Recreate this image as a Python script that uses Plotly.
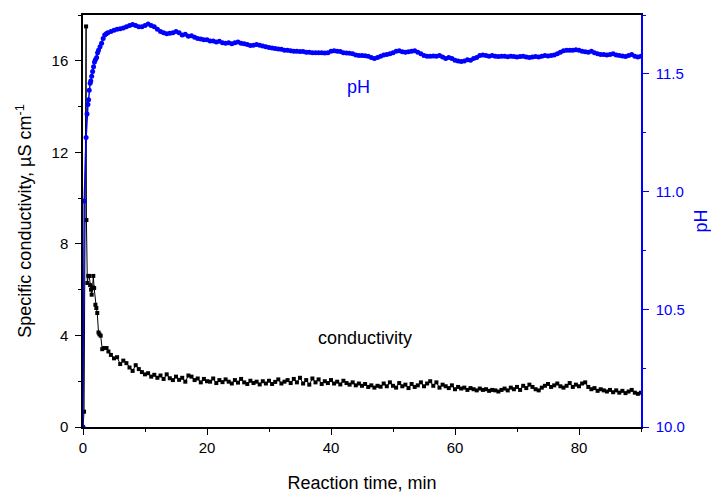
import plotly.graph_objects as go

# ---------------- data ----------------
time_cond_early = [0.0, 0.17, 0.5, 0.55, 0.7, 0.85, 1.0, 1.15, 1.3, 1.4, 1.55, 1.66, 1.8,
                   2.0, 2.15, 2.3, 2.5, 2.65, 2.85, 3.1, 3.4, 3.8, 4.1, 4.5]
cond_early = [0.0, 0.67, 17.5, 9.04, 6.29, 6.6, 6.6, 6.2, 6.0, 5.78, 6.1, 6.6, 6.07,
              5.34, 5.2, 4.98, 4.13, 4.05, 3.99, 3.4, 3.45, 3.45, 3.3, 3.15]

time_ph_early = [0.0, 0.2, 0.5, 0.65, 0.8, 0.9, 1.0, 1.15, 1.25, 1.4, 1.55, 1.7, 1.85,
                 2.0, 2.2, 2.35, 2.5, 2.75, 3.0, 3.25, 3.5, 3.75, 4.0, 4.5]
ph_early = [10.0, 10.96, 11.23, 11.33, 11.37, 11.39, 11.43, 11.46, 11.47, 11.49, 11.51, 11.53, 11.55,
            11.56, 11.57, 11.59, 11.60, 11.615, 11.63, 11.65, 11.665, 11.67, 11.675, 11.68]

time_late = [
    5.0, 5.5, 6.0, 6.5, 7.0, 7.5, 8.0, 8.5, 9.0, 9.5,
    10.0, 10.5, 11.0, 11.5, 12.0, 12.5, 13.0, 13.5, 14.0, 14.5,
    15.0, 15.5, 16.0, 16.5, 17.0, 17.5, 18.0, 18.5, 19.0, 19.5,
    20.0, 20.5, 21.0, 21.5, 22.0, 22.5, 23.0, 23.5, 24.0, 24.5,
    25.0, 25.5, 26.0, 26.5, 27.0, 27.5, 28.0, 28.5, 29.0, 29.5,
    30.0, 30.5, 31.0, 31.5, 32.0, 32.5, 33.0, 33.5, 34.0, 34.5,
    35.0, 35.5, 36.0, 36.5, 37.0, 37.5, 38.0, 38.5, 39.0, 39.5,
    40.0, 40.5, 41.0, 41.5, 42.0, 42.5, 43.0, 43.5, 44.0, 44.5,
    45.0, 45.5, 46.0, 46.5, 47.0, 47.5, 48.0, 48.5, 49.0, 49.5,
    50.0, 50.5, 51.0, 51.5, 52.0, 52.5, 53.0, 53.5, 54.0, 54.5,
    55.0, 55.5, 56.0, 56.5, 57.0, 57.5, 58.0, 58.5, 59.0, 59.5,
    60.0, 60.5, 61.0, 61.5, 62.0, 62.5, 63.0, 63.5, 64.0, 64.5,
    65.0, 65.5, 66.0, 66.5, 67.0, 67.5, 68.0, 68.5, 69.0, 69.5,
    70.0, 70.5, 71.0, 71.5, 72.0, 72.5, 73.0, 73.5, 74.0, 74.5,
    75.0, 75.5, 76.0, 76.5, 77.0, 77.5, 78.0, 78.5, 79.0, 79.5,
    80.0, 80.5, 81.0, 81.5, 82.0, 82.5, 83.0, 83.5, 84.0, 84.5,
    85.0, 85.5, 86.0, 86.5, 87.0, 87.5, 88.0, 88.5, 89.0, 89.5,
    90.0,
]

cond_late = [
    3.0, 3.05, 2.75, 2.9, 2.79, 2.6, 2.45, 2.7, 2.53, 2.4,
    2.3, 2.35, 2.2, 2.28, 2.15, 2.25, 2.1, 2.3, 2.13, 2.05,
    2.2, 2.06, 2.15, 1.98, 2.25, 2.2, 2.05, 2.12, 1.95, 2.1,
    2.0, 1.98, 2.12, 1.92, 2.05, 1.96, 2.08, 1.98, 1.9, 2.05,
    1.94, 2.1, 1.95, 1.88, 2.02, 1.92, 1.98, 1.86, 2.0, 1.9,
    2.02, 1.88, 1.97, 2.08, 1.9, 1.98, 2.05, 1.92, 2.1, 1.95,
    2.15, 1.9, 2.05, 1.85, 2.12, 1.95, 2.08, 1.88, 2.0, 1.92,
    2.05, 1.9, 1.98, 1.86, 2.02, 1.92, 1.85, 1.95, 1.82, 1.9,
    1.8, 1.88, 1.75, 1.82, 1.72, 1.8, 1.76, 1.9, 1.78, 1.95,
    1.8, 1.72, 1.92, 1.78, 1.85, 1.7, 1.88, 1.75, 1.82, 1.95,
    1.78, 1.9, 2.0, 1.8, 1.95, 1.72, 1.85, 1.78, 1.7, 1.82,
    1.65, 1.75, 1.68, 1.72, 1.62, 1.7, 1.65, 1.6, 1.68, 1.62,
    1.65, 1.58, 1.62, 1.6, 1.55, 1.62, 1.68, 1.6, 1.72, 1.65,
    1.75, 1.62, 1.8, 1.7, 1.85, 1.75, 1.65, 1.6, 1.72, 1.8,
    1.88, 1.75, 1.82, 1.9, 1.78, 1.72, 1.8, 1.92, 1.75, 1.85,
    1.78, 1.9, 1.95, 1.75, 1.65, 1.7, 1.58, 1.65, 1.6, 1.55,
    1.62, 1.52, 1.6, 1.5, 1.58, 1.48, 1.55, 1.62, 1.5, 1.45,
    1.5,
]

ph_late = [
    11.685, 11.69, 11.692, 11.695, 11.70, 11.705, 11.71, 11.705, 11.70, 11.70,
    11.705, 11.712, 11.705, 11.70, 11.69, 11.68, 11.675, 11.67, 11.672, 11.675,
    11.68, 11.675, 11.665, 11.668, 11.66, 11.662, 11.655, 11.65, 11.648, 11.645,
    11.645, 11.64, 11.64, 11.635, 11.638, 11.632, 11.63, 11.632, 11.628, 11.632,
    11.635, 11.63, 11.628, 11.625, 11.62, 11.622, 11.625, 11.622, 11.618, 11.615,
    11.612, 11.61, 11.608, 11.606, 11.605, 11.60, 11.60, 11.598, 11.596, 11.596,
    11.595, 11.595, 11.592, 11.592, 11.59, 11.59, 11.59, 11.59, 11.589, 11.59,
    11.596, 11.598, 11.596, 11.595, 11.59, 11.589, 11.588, 11.585, 11.58, 11.578,
    11.578, 11.577, 11.575, 11.57, 11.565, 11.57, 11.575, 11.58, 11.582, 11.585,
    11.59, 11.596, 11.598, 11.594, 11.592, 11.594, 11.596, 11.598, 11.592, 11.585,
    11.578, 11.575, 11.575, 11.576, 11.575, 11.578, 11.572, 11.565, 11.57, 11.565,
    11.558, 11.555, 11.552, 11.555, 11.56, 11.558, 11.565, 11.57, 11.578, 11.58,
    11.578, 11.575, 11.578, 11.575, 11.574, 11.575, 11.575, 11.573, 11.575, 11.574,
    11.572, 11.574, 11.575, 11.572, 11.57, 11.572, 11.574, 11.572, 11.575, 11.578,
    11.576, 11.578, 11.58, 11.585, 11.592, 11.598, 11.60, 11.60, 11.60, 11.602,
    11.60, 11.596, 11.594, 11.592, 11.596, 11.59, 11.585, 11.582, 11.582, 11.58,
    11.582, 11.585, 11.58, 11.578, 11.576, 11.574, 11.578, 11.582, 11.575, 11.572,
    11.575,
]

time_cond = time_cond_early + time_late
cond = cond_early + cond_late
time_ph = time_ph_early + time_late
ph = ph_early + ph_late

x_ticks = [0, 20, 40, 60, 80]
y1_ticks = [0, 4, 8, 12, 16]
y2_ticks = [10.0, 10.5, 11.0, 11.5]

FONT = "Liberation Sans, Arial, sans-serif"
BLUE = "#0000FF"

fig = go.Figure()
fig.add_trace(go.Scatter(
    x=time_cond, y=cond, mode="lines+markers", name="conductivity",
    line=dict(color="black", width=1),
    marker=dict(symbol="square", size=4, color="black"),
    yaxis="y", showlegend=False,
))
fig.add_trace(go.Scatter(
    x=time_ph, y=ph, mode="lines+markers", name="pH",
    line=dict(color=BLUE, width=1.5),
    marker=dict(symbol="circle", size=5, color=BLUE),
    yaxis="y2", showlegend=False,
))

fig.update_layout(
    width=711, height=485,
    margin=dict(l=75, r=78, t=7, b=66),
    paper_bgcolor="white", plot_bgcolor="white",
    font=dict(family=FONT, size=15, color="black"),
    xaxis=dict(
        range=[0, 90], tickvals=x_ticks, ticktext=[str(v) for v in x_ticks],
        ticks="outside", ticklen=6, tickwidth=1.2, tickcolor="black",
        minor=dict(dtick=10, tick0=0, ticks="outside", ticklen=3, tickcolor="black", tickwidth=1.2),
        showline=True, linecolor="black", linewidth=1.5, mirror=True,
        showgrid=False, zeroline=False, automargin=False,
        title=dict(text="Reaction time, min", font=dict(size=18), standoff=22),
    ),
    yaxis=dict(
        range=[0, 18], tickvals=y1_ticks, ticktext=[str(v) for v in y1_ticks],
        ticks="outside", ticklen=6, tickwidth=1.2, tickcolor="black",
        ticklabelstandoff=4,
        minor=dict(dtick=2, tick0=0, ticks="outside", ticklen=3, tickcolor="black", tickwidth=1.2),
        showline=True, linecolor="black", linewidth=1.5,
        showgrid=False, zeroline=False, automargin=False,
        title=dict(text="Specific conductivity, µS cm<sup>-1</sup>", font=dict(size=18), standoff=15),
    ),
    yaxis2=dict(
        overlaying="y", side="right", anchor="x",
        range=[10.0, 11.75], tickvals=y2_ticks, ticktext=["%.1f" % v for v in y2_ticks],
        ticks="outside", ticklen=6, tickwidth=1.2, tickcolor=BLUE,
        ticklabelstandoff=4,
        minor=dict(dtick=0.25, tick0=10.0, ticks="outside", ticklen=3, tickcolor=BLUE, tickwidth=1.2),
        showline=True, linecolor=BLUE, linewidth=1.5,
        showgrid=False, zeroline=False, automargin=False,
        tickfont=dict(color=BLUE, size=15),
        title=dict(text="pH", font=dict(size=18, color=BLUE), standoff=10),
    ),
    annotations=[
        dict(x=44.5, y=11.445, xref="x", yref="y2", text="pH", showarrow=False,
             font=dict(size=18, color=BLUE, family=FONT)),
        dict(x=45.5, y=3.9, xref="x", yref="y", text="conductivity", showarrow=False,
             font=dict(size=18, color="black", family=FONT)),
    ],
)

fig.write_html("out.html")
